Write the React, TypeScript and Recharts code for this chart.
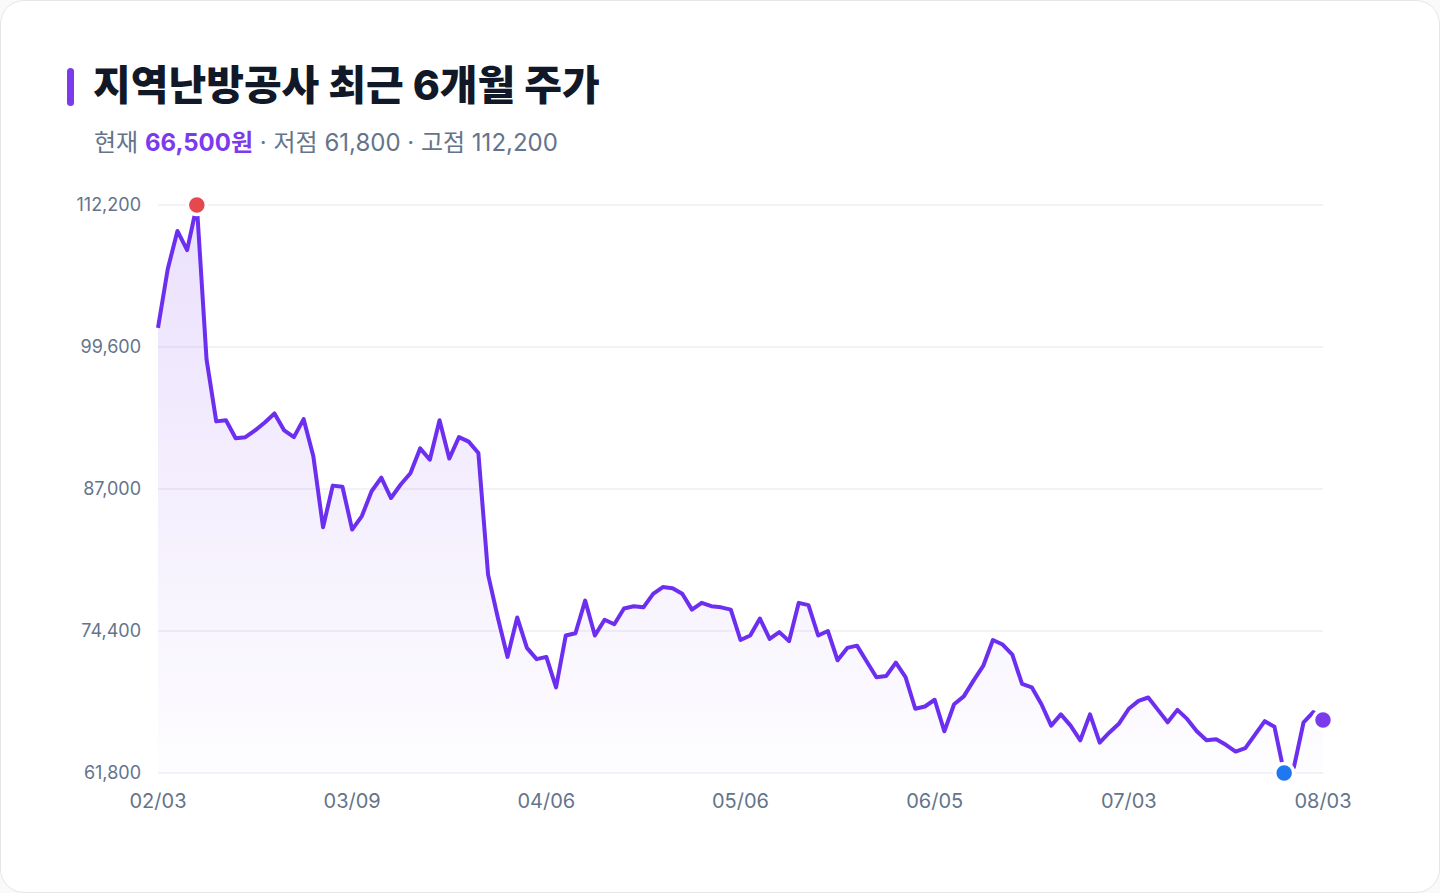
import React from 'react'
import {
  ComposedChart,
  Area,
  XAxis,
  YAxis,
  CartesianGrid,
  ReferenceDot
} from 'recharts'

// 종가 (2/3 ~ 8/3, 121 거래일)
const PRICES = [
  101300, 106500, 109900, 108200, 112200, 98500, 93000, 93100, 91500, 91600,
  92200, 92900, 93700, 92200, 91600, 93200, 89900, 83600, 87300, 87200,
  83400, 84600, 86800, 88000, 86200, 87400, 88400, 90600, 89600, 93100,
  89700, 91600, 91200, 90200, 79400, 75600, 72100, 75600, 72900, 71900,
  72100, 69400, 74000, 74200, 77100, 74000, 75400, 75000, 76400, 76600,
  76500, 77700, 78300, 78200, 77700, 76300, 76900, 76600, 76500, 76300,
  73600, 74000, 75500, 73700, 74300, 73500, 76900, 76700, 74000, 74400,
  71800, 72900, 73100, 71700, 70300, 70400, 71600, 70300, 67500, 67700,
  68300, 65500, 67900, 68600, 70000, 71300, 73600, 73200, 72300, 69700,
  69400, 67900, 66000, 67000, 66000, 64700, 67000, 64500, 65400, 66200,
  67500, 68200, 68500, 67400, 66300, 67400, 66600, 65500, 64700, 64800,
  64300, 63700, 64000, 65200, 66400, 65900, 61800, 62300, 66300, 67200,
  66500
]

const TICK_INDEX = [0, 20, 40, 60, 80, 100, 120]
const TICK_LABELS = ['02/03', '03/09', '04/06', '05/06', '06/05', '07/03', '08/03']
const Y_TICKS = [61800, 74400, 87000, 99600, 112200]

const data = PRICES.map((price, idx) => ({ idx, price }))

const highPrice = Math.max(...PRICES)
const lowPrice = Math.min(...PRICES)
const highIdx = PRICES.indexOf(highPrice)
const lowIdx = PRICES.indexOf(lowPrice)
const lastIdx = PRICES.length - 1
const lastPrice = PRICES[lastIdx]

const fmt = (n: number) => n.toLocaleString('en-US')

const LINE = '#6c2ff0'
const NUM_FONT = 'Inter, "Noto Sans CJK KR", sans-serif'

export default function App() {
  return (
    <div style={{ position: 'relative', width: 1440, height: 893, background: '#fafafa' }}>
      <style>{`body{margin:0;background:#fafafa}`}</style>
      <div
        style={{
          position: 'absolute',
          left: 0,
          top: 0,
          width: 1440,
          height: 893,
          boxSizing: 'border-box',
          border: '1.5px solid #e6e6ea',
          borderRadius: 24,
          background: '#ffffff',
          overflow: 'hidden'
        }}
      >
        <div
          style={{
            position: 'absolute',
            left: 66,
            top: 67,
            width: 7,
            height: 38,
            borderRadius: 4,
            background: '#7c3aed'
          }}
        />
        <div
          style={{
            position: 'absolute',
            left: 92,
            top: 64,
            fontFamily: NUM_FONT,
            fontSize: 41,
            lineHeight: '41px',
            fontWeight: 800,
            color: '#111827',
            whiteSpace: 'nowrap'
          }}
        >
          지역난방공사 최근 6개월 주가
        </div>
        <div
          style={{
            position: 'absolute',
            left: 93,
            top: 130,
            fontFamily: NUM_FONT,
            fontSize: 24,
            lineHeight: '24px',
            color: '#64748b',
            whiteSpace: 'nowrap'
          }}
        >
          현재 <span style={{ color: '#7c3aed', fontWeight: 700 }}>{fmt(lastPrice)}원</span>
          {' · 저점 '}
          {fmt(lowPrice)}
          {' · 고점 '}
          {fmt(highPrice)}
        </div>

        <div style={{ position: 'absolute', left: 0, top: 0 }}>
          <ComposedChart
            width={1440}
            height={893}
            data={data}
            margin={{ top: 204, right: 118, bottom: 91, left: 77 }}
          >
            <defs>
              <linearGradient id="priceFill" x1="0" y1="0" x2="0" y2="1">
                <stop offset="0%" stopColor="#7c3aed" stopOpacity={0.26} />
                <stop offset="100%" stopColor="#7c3aed" stopOpacity={0.02} />
              </linearGradient>
            </defs>
            <CartesianGrid vertical={false} stroke="#e5e7eb" strokeWidth={1.2} />
            <XAxis
              dataKey="idx"
              type="number"
              domain={[0, lastIdx]}
              ticks={TICK_INDEX}
              tickFormatter={(v: number) => TICK_LABELS[TICK_INDEX.indexOf(v)] ?? ''}
              axisLine={false}
              tickLine={false}
              tickSize={0}
              tickMargin={21}
              height={30}
              tick={{ fill: '#64748b', fontSize: 20, fontFamily: NUM_FONT }}
            />
            <YAxis
              domain={[Y_TICKS[0], Y_TICKS[Y_TICKS.length - 1]]}
              ticks={Y_TICKS}
              tickFormatter={(v: number) => fmt(v)}
              axisLine={false}
              tickLine={false}
              tickSize={0}
              tickMargin={17}
              width={80}
              tick={{ fill: '#64748b', fontSize: 18, fontFamily: NUM_FONT }}
            />
            <Area
              type="linear"
              dataKey="price"
              stroke={LINE}
              strokeWidth={4}
              strokeLinejoin="round"
              fill="url(#priceFill)"
              dot={false}
              activeDot={false}
              isAnimationActive={false}
            />
            <ReferenceDot x={highIdx} y={highPrice} r={9.5} fill="#e5484d" stroke="#ffffff" strokeWidth={3.5} />
            <ReferenceDot x={lowIdx} y={lowPrice} r={9.5} fill="#1f78f0" stroke="#ffffff" strokeWidth={3.5} />
            <ReferenceDot x={lastIdx} y={lastPrice} r={9.5} fill="#7c3aed" stroke="#ffffff" strokeWidth={3.5} />
          </ComposedChart>
        </div>
      </div>
    </div>
  )
}
